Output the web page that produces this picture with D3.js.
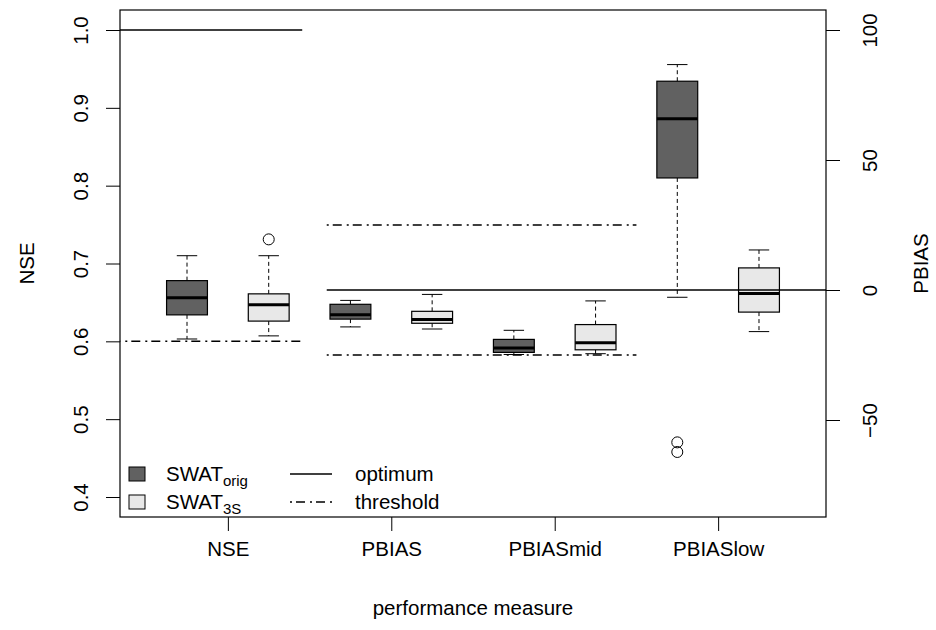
<!DOCTYPE html>
<html>
<head>
<meta charset="utf-8">
<script src="https://cdn.jsdelivr.net/npm/d3@7"></script>
<style>
    body { margin: 0; background: #fff; }
    text { font-family: "Liberation Sans", Arial, sans-serif; fill: #000; }
</style>
</head>
<body>
<div id="chart"></div>
<script>
// measures on the x axis; NSE uses the left axis, the PBIAS ones the right axis
const categories = ["NSE", "PBIAS", "PBIASmid", "PBIASlow"];

// SWAT_orig box stats (whisker low, q1, median, q3, whisker high)
const origLow = [0.603, -14.2, -24.8, -2.8];
const origQ1 = [0.634, -11.2, -24.0, 43.1];
const origMed = [0.656, -9.5, -22.3, 65.9];
const origQ3 = [0.678, -5.5, -19.0, 80.3];
const origHigh = [0.710, -4.0, -15.5, 86.7];
const origOut = [[], [], [], [-58.6, -62.3]];

// SWAT_3S box stats
const s3Low = [0.607, -15.0, -24.5, -16.0];
const s3Q1 = [0.626, -12.8, -23.0, -8.5];
const s3Med = [0.647, -11.3, -20.3, -1.3];
const s3Q3 = [0.661, -8.2, -13.3, 8.5];
const s3High = [0.710, -1.7, -4.2, 15.4];
const s3Out = [[0.731], [], [], []];

const nseTicks = [0.4, 0.5, 0.6, 0.7, 0.8, 0.9, 1.0];
const pbiasTicks = [-50, 0, 50, 100];

// optimum / threshold segments, x given in box-position units
const nseOptimum = {value: 1.0, from: 0, to: 2.41};
const nseThreshold = [{value: 0.6, from: 0, to: 2.41}];
const pbiasOptimum = {value: 0, from: 2.71, to: 9};
const pbiasThreshold = [{value: 25, from: 2.71, to: 6.5}, {value: -25, from: 2.71, to: 6.5}];

const W = 936, H = 630;
const plot = {left: 120, right: 826, top: 10, bottom: 517};
const darkFill = "#616161", lightFill = "#e8e8e8";
const dotdash = "2,4,9,5";

const svg = d3.select("#chart").append("svg")
    .attr("width", W)
    .attr("height", H);

const x = d3.scaleLinear().domain([0.18, 8.82]).range([plot.left, plot.right]);
const yNse = d3.scaleLinear().domain([0.4, 1.0]).range([497, 30]);
const yPb = d3.scaleLinear().domain([-50, 100]).range([420, 30]);
const scaleFor = (i) => i === 0 ? yNse : yPb;

svg.append("clipPath").attr("id", "clip")
    .append("rect")
    .attr("x", plot.left).attr("y", plot.top)
    .attr("width", plot.right - plot.left).attr("height", plot.bottom - plot.top);

const boxes = [];
categories.forEach((c, i) => {
    boxes.push({cat: i, pos: 2 * i + 1, fill: darkFill,
        low: origLow[i], q1: origQ1[i], med: origMed[i], q3: origQ3[i], high: origHigh[i], out: origOut[i]});
    boxes.push({cat: i, pos: 2 * i + 2, fill: lightFill,
        low: s3Low[i], q1: s3Q1[i], med: s3Med[i], q3: s3Q3[i], high: s3High[i], out: s3Out[i]});
});

const boxW = x(1.25) - x(1);
const g = svg.append("g");

boxes.forEach((b) => {
    const y = scaleFor(b.cat);
    const cx = x(b.pos);
    const bg = g.append("g");

    // whiskers
    [[b.q1, b.low], [b.q3, b.high]].forEach(([a, e]) => {
        bg.append("line")
            .attr("x1", cx).attr("x2", cx)
            .attr("y1", y(a)).attr("y2", y(e))
            .attr("stroke", "#000")
            .attr("stroke-dasharray", "4,3");
        bg.append("line")
            .attr("x1", cx - boxW / 2).attr("x2", cx + boxW / 2)
            .attr("y1", y(e)).attr("y2", y(e))
            .attr("stroke", "#000");
    });

    bg.append("rect")
        .attr("x", cx - boxW)
        .attr("y", y(b.q3))
        .attr("width", boxW * 2)
        .attr("height", y(b.q1) - y(b.q3))
        .attr("fill", b.fill)
        .attr("stroke", "#000")
        .attr("stroke-width", 1.2);

    bg.append("line")
        .attr("x1", cx - boxW).attr("x2", cx + boxW)
        .attr("y1", y(b.med)).attr("y2", y(b.med))
        .attr("stroke", "#000")
        .attr("stroke-width", 3);

    b.out.forEach((o) => {
        bg.append("circle")
            .attr("cx", cx).attr("cy", y(o))
            .attr("r", 5.5)
            .attr("fill", "none")
            .attr("stroke", "#000");
    });
});

// reference lines
const refs = svg.append("g").attr("clip-path", "url(#clip)");
const drawRef = (seg, y, dash) => {
    refs.append("line")
        .attr("x1", x(seg.from)).attr("x2", x(seg.to))
        .attr("y1", y(seg.value)).attr("y2", y(seg.value))
        .attr("stroke", "#000")
        .attr("stroke-width", 1.5)
        .attr("stroke-dasharray", dash);
};
drawRef(nseOptimum, yNse, null);
nseThreshold.forEach((s) => drawRef(s, yNse, dotdash));
drawRef(pbiasOptimum, yPb, null);
pbiasThreshold.forEach((s) => drawRef(s, yPb, dotdash));

// frame
svg.append("rect")
    .attr("x", plot.left).attr("y", plot.top)
    .attr("width", plot.right - plot.left).attr("height", plot.bottom - plot.top)
    .attr("fill", "none")
    .attr("stroke", "#000")
    .attr("stroke-width", 1.2);

const fontSize = 20.5;

// left axis
const left = svg.append("g")
    .attr("transform", `translate(${plot.left},0)`)
    .call(d3.axisLeft(yNse).tickValues(nseTicks).tickFormat(d3.format(".1f")).tickSize(14));
left.select(".domain").remove();
left.selectAll("text")
    .attr("transform", "rotate(-90)")
    .attr("x", 0).attr("y", -32).attr("dy", null)
    .attr("text-anchor", "middle")
    .style("font-size", fontSize + "px");

// right axis
const right = svg.append("g")
    .attr("transform", `translate(${plot.right},0)`)
    .call(d3.axisRight(yPb).tickValues(pbiasTicks).tickFormat((d) => d < 0 ? "\u2212" + Math.abs(d) : d).tickSize(14));
right.select(".domain").remove();
right.selectAll("text")
    .attr("transform", "rotate(-90)")
    .attr("x", 0).attr("y", 51).attr("dy", null)
    .attr("text-anchor", "middle")
    .style("font-size", fontSize + "px");

// bottom axis
const catX = categories.map((c, i) => x(2 * i + 1.5));
const bottom = svg.append("g")
    .attr("transform", `translate(0,${plot.bottom})`)
    .call(d3.axisBottom(d3.scaleOrdinal().domain(categories).range(catX)).tickSize(14));
bottom.select(".domain").remove();
bottom.selectAll("text")
    .attr("y", 39).attr("dy", null)
    .style("font-size", fontSize + "px");
[left, right, bottom].forEach((a) => a.selectAll("line").attr("stroke", "#000"));
[left, right, bottom].forEach((a) => a.attr("font-family", null).attr("font-size", null));

// axis titles
svg.append("text")
    .attr("transform", `translate(34,${(plot.top + plot.bottom) / 2}) rotate(-90)`)
    .attr("text-anchor", "middle")
    .style("font-size", fontSize + "px")
    .text("NSE");
svg.append("text")
    .attr("transform", `translate(928,${(plot.top + plot.bottom) / 2}) rotate(-90)`)
    .attr("text-anchor", "middle")
    .style("font-size", fontSize + "px")
    .text("PBIAS");
svg.append("text")
    .attr("x", (plot.left + plot.right) / 2)
    .attr("y", 615)
    .attr("text-anchor", "middle")
    .style("font-size", fontSize + "px")
    .text("performance measure");

// legend
const legend = svg.append("g");
const legRows = [
    {fill: darkFill, main: "SWAT", sub: "orig", line: null, label: "optimum"},
    {fill: lightFill, main: "SWAT", sub: "3S", line: dotdash, label: "threshold"}
];
legRows.forEach((r, i) => {
    const cy = 474 + i * 28;
    legend.append("rect")
        .attr("x", 129).attr("y", cy - 7)
        .attr("width", 16).attr("height", 14)
        .attr("fill", r.fill)
        .attr("stroke", "#000");
    const t = legend.append("text")
        .attr("x", 166).attr("y", cy + 7)
        .style("font-size", fontSize + "px");
    t.append("tspan").text(r.main);
    t.append("tspan").attr("dy", 5).style("font-size", "15px").text(r.sub);
    legend.append("line")
        .attr("x1", 290).attr("x2", 332)
        .attr("y1", cy).attr("y2", cy)
        .attr("stroke", "#000")
        .attr("stroke-width", 1.5)
        .attr("stroke-dasharray", r.line);
    legend.append("text")
        .attr("x", 355).attr("y", cy + 7)
        .style("font-size", fontSize + "px")
        .text(r.label);
});
</script>
</body>
</html>
